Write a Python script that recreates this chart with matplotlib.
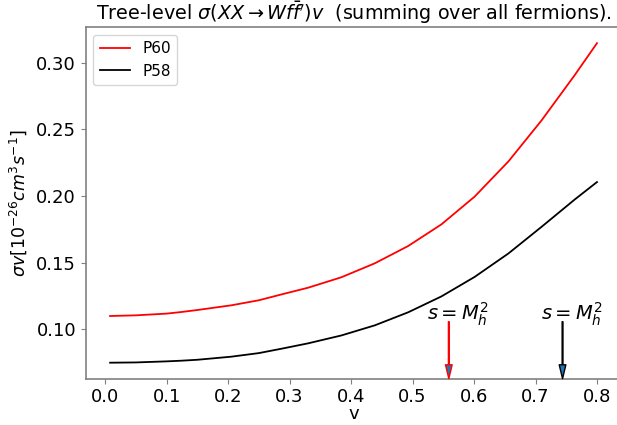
import matplotlib
matplotlib.use("Agg")
import matplotlib.pyplot as plt

v60 = [0.008, 0.05, 0.10, 0.124, 0.15, 0.205, 0.25, 0.287, 0.33, 0.384, 0.4386,
       0.493, 0.547, 0.601, 0.656, 0.710, 0.764, 0.80]
p60 = [0.1100, 0.1105, 0.1118, 0.1130, 0.1145, 0.1180, 0.1218, 0.1262, 0.1312, 0.1390, 0.1495,
       0.1625, 0.1787, 0.1995, 0.2259, 0.2567, 0.2907, 0.3145]
v58 = [0.008, 0.05, 0.10, 0.124, 0.15, 0.205, 0.25, 0.287, 0.33, 0.384, 0.4386,
       0.493, 0.547, 0.601, 0.656, 0.710, 0.764, 0.80]
p58 = [0.0750, 0.0752, 0.0760, 0.0765, 0.0772, 0.0795, 0.0822, 0.0855, 0.0895, 0.0954, 0.1030,
       0.1128, 0.1247, 0.1393, 0.1569, 0.1769, 0.1974, 0.2104]
arrow_x = [0.559, 0.744]
arrow_colors = ["red", "black"]
arrow_text = r"$s=M_h^2$"
title = r"Tree-level $\sigma(XX\rightarrow Wf\bar{f}')v$  (summing over all fermions)."

fig = plt.figure(figsize=(6.17, 4.25), dpi=100)
ax = fig.add_axes([0.139, 0.109, 0.868, 0.827])

ax.plot(v60, p60, color="red", lw=1.3, label="P60")
ax.plot(v58, p58, color="black", lw=1.3, label="P58")

for xa, col in zip(arrow_x, arrow_colors):
    ax.annotate("", xy=(xa, 0), xycoords=("data", "axes fraction"),
                xytext=(xa, 0.1057), textcoords="data",
                arrowprops=dict(facecolor="C0", edgecolor=col, width=0.6,
                                headwidth=4.8, headlength=10, lw=1))
    ax.text(xa + 0.015, 0.1068, arrow_text, ha="center", va="baseline", fontsize=14)

ax.set_title(title, fontsize=13.8, pad=5)
ax.set_xlabel("v", fontsize=13, labelpad=-1)
ax.set_ylabel(r"$\sigma v [10^{-26} cm^3 s^{-1}]$", fontsize=12.5, labelpad=5)
ax.set_xticks([0.0, 0.1, 0.2, 0.3, 0.4, 0.5, 0.6, 0.7, 0.8])
ax.set_yticks([0.10, 0.15, 0.20, 0.25, 0.30])
ax.tick_params(labelsize=13, color="0.5")
for s in ax.spines.values():
    s.set_color("0.5")
    s.set_linewidth(1.2)
ax.legend(loc="upper left", fontsize=11)

fig.savefig("out.png", dpi=100)
